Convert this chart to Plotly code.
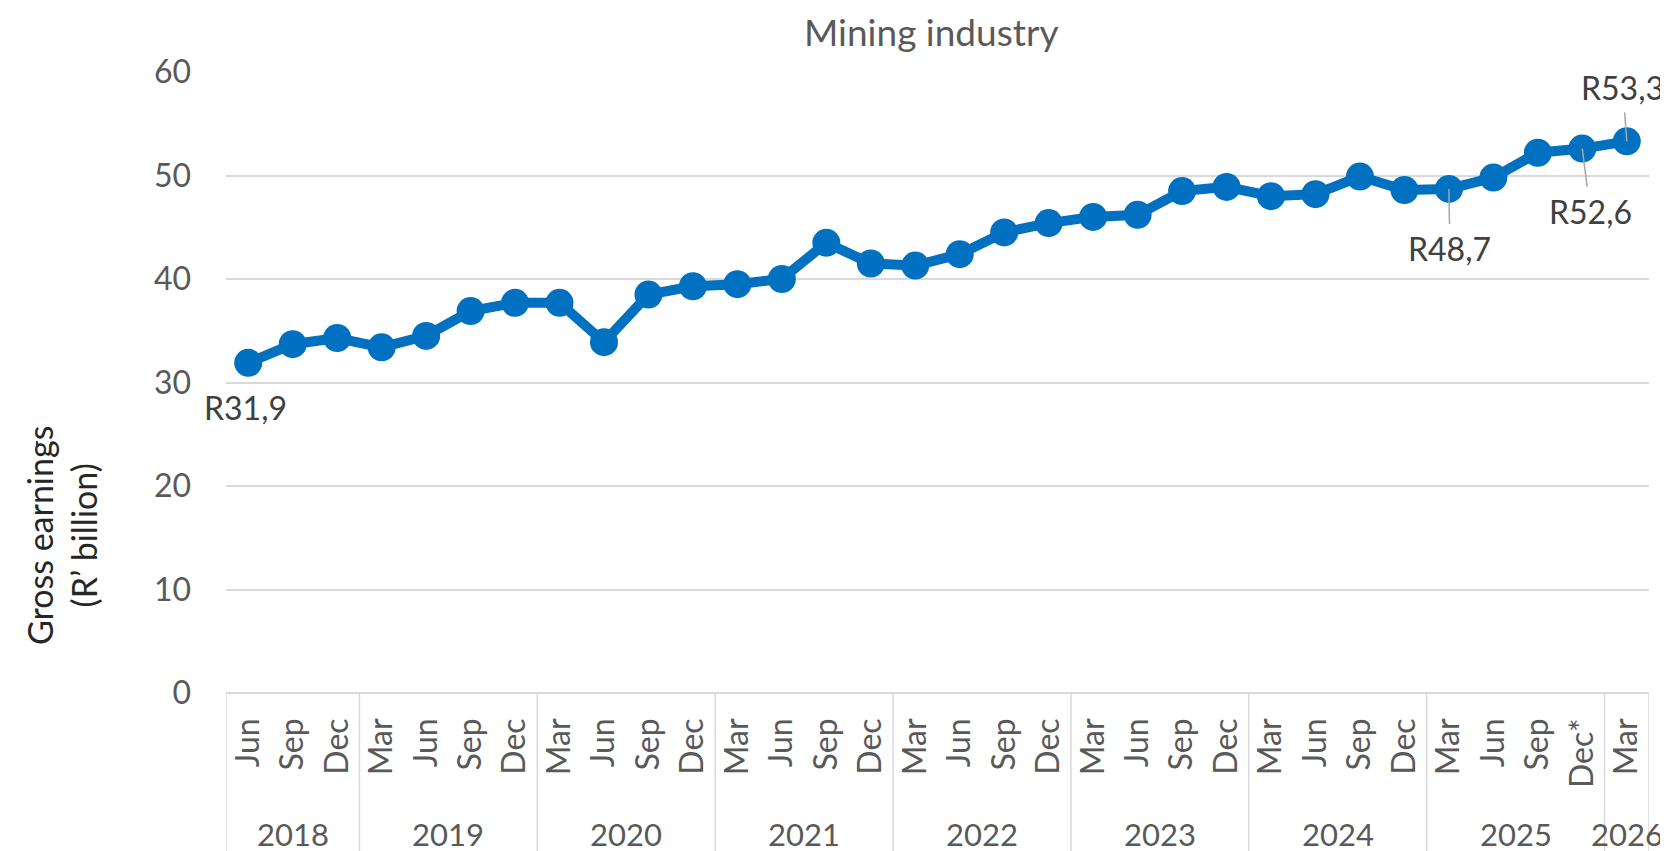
import plotly.graph_objects as go

# Data
years = ["2018"] * 3 + ["2019"] * 4 + ["2020"] * 4 + ["2021"] * 4 + ["2022"] * 4 + \
        ["2023"] * 4 + ["2024"] * 4 + ["2025"] * 4 + ["2026"]
months = ["Jun", "Sep", "Dec"] + ["Mar", "Jun", "Sep", "Dec"] * 6 + \
         ["Mar", "Jun", "Sep", "Dec*"] + ["Mar"]
earnings = [31.9, 33.7, 34.3, 33.4, 34.5, 36.9, 37.7, 37.7, 33.9, 38.5, 39.3,
            39.5, 40.0, 43.5, 41.5, 41.3, 42.4, 44.5, 45.4, 46.0, 46.2, 48.5,
            48.9, 48.0, 48.2, 49.9, 48.6, 48.7, 49.8, 52.2, 52.6, 53.3]
# labelled points
labels = {0: "R31,9", 27: "R48,7", 30: "R52,6", 31: "R53,3"}

BLUE = "#0070C0"
GRID = "#D9D9D9"
TEXT = "#595959"
FONT = "Lato"
FS = 32

W, H = 1668, 851
L, R, T, B = 218, 27, 64, 166
plot_h = H - T - B
plot_w = W - L - R

idx = list(range(len(earnings)))

fig = go.Figure()
fig.add_trace(go.Scatter(
    x=idx, y=earnings, mode="lines+markers",
    line=dict(color=BLUE, width=10),
    marker=dict(color=BLUE, size=28),
    cliponaxis=False, showlegend=False,
    hovertemplate="%{y:.1f}<extra></extra>"
))

# Data labels with leader lines (pixel offsets of the label centre)
offsets = {0: (-3, 45), 27: (1, 60), 30: (8, 63), 31: (-4, -54)}
for i, txt in labels.items():
    dx, dy = offsets[i]
    if i == 0:
        fig.add_annotation(x=i, y=earnings[i], text=txt, showarrow=False,
                           xshift=dx, yshift=-dy,
                           font=dict(family=FONT, size=FS, color="#404040"))
    else:
        fig.add_annotation(x=i, y=earnings[i], text=txt, showarrow=True,
                           arrowhead=0, arrowwidth=1.5, arrowcolor="#A6A6A6",
                           ax=dx, ay=dy, borderpad=5,
                           font=dict(family=FONT, size=FS, color="#404040"))

# Year groups: dividers and labels
bottom = -B / plot_h
bounds = [-0.5]
centers = []
start = 0
for k in range(1, len(years) + 1):
    if k == len(years) or years[k] != years[start]:
        bounds.append(k - 0.5)
        centers.append(((start + k - 1) / 2, years[start]))
        start = k
for b in bounds:
    fig.add_shape(type="line", xref="x", yref="paper", x0=b, x1=b, y0=0, y1=bottom,
                  line=dict(color=GRID, width=1.5))
for c, yr in centers:
    fig.add_annotation(x=c, xref="x", yref="paper", y=(T + plot_h - 826) / plot_h,
                       text=yr, showarrow=False, yanchor="middle", borderpad=0,
                       font=dict(family=FONT, size=31, color=TEXT))

# Axis title
fig.add_annotation(xref="paper", yref="paper", x=(53 - L) / plot_w,
                   y=(T + plot_h - 528) / plot_h,
                   text="Gross earnings<br>(R’ billion)", textangle=-90,
                   showarrow=False, xanchor="center", yanchor="middle",
                   font=dict(family=FONT, size=34, color="#262626"))

# Chart title as a paper annotation so it stays clear of the top edge
fig.add_annotation(xref="paper", yref="paper", x=(923 - L) / plot_w,
                   y=(T + plot_h - 24) / plot_h, text="Mining industry",
                   showarrow=False, xanchor="center", yanchor="middle",
                   font=dict(family=FONT, size=37, color=TEXT))

fig.update_layout(
    width=W, height=H,
    margin=dict(l=L, r=R, t=T, b=B),
    paper_bgcolor="#ffffff", plot_bgcolor="#ffffff",
    font=dict(family=FONT, size=FS, color=TEXT),
    showlegend=False
)
fig.update_xaxes(
    range=[-0.5, len(earnings) - 0.5], tickmode="array", tickvals=idx, ticktext=months,
    tickangle=-90, showgrid=False, zeroline=False, showline=False,
    ticks="", ticklabelstandoff=18, tickfont=dict(family=FONT, size=FS, color=TEXT)
)
fig.update_yaxes(
    range=[0, 60], dtick=10, showgrid=True, gridcolor=GRID, gridwidth=1.5,
    zeroline=True, zerolinecolor=GRID, zerolinewidth=1.5, showline=False,
    ticks="", ticklabelstandoff=34, tickfont=dict(family=FONT, size=FS, color=TEXT)
)

fig.write_html("out.html")
